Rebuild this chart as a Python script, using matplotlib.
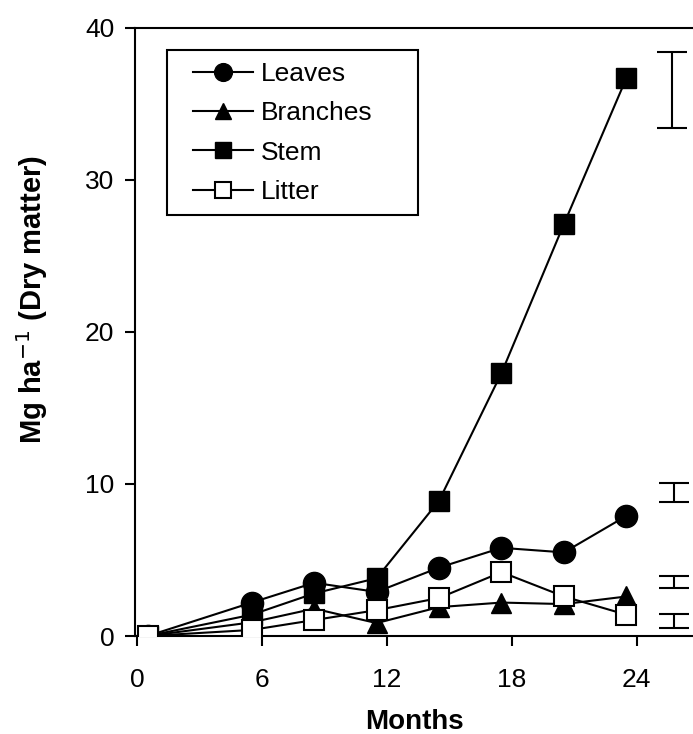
import matplotlib
matplotlib.use('Agg')
import matplotlib.pyplot as plt
from matplotlib.patches import Rectangle

# sampling times (months)
months = [0.5, 5.5, 8.5, 11.5, 14.5, 17.5, 20.5, 23.5]

leaves = [0.0, 2.2, 3.5, 2.9, 4.5, 5.8, 5.5, 7.9]
branches = [0.0, 0.9, 1.8, 0.85, 1.9, 2.2, 2.1, 2.6]
stem = [0.0, 1.4, 2.8, 3.8, 8.9, 17.3, 27.1, 36.7]
litter = [0.0, 0.4, 1.05, 1.7, 2.5, 4.2, 2.6, 1.4]

# standard error bars drawn at the right hand side
err_x = [25.7, 25.8, 25.8, 25.8]
err_center = [35.9, 9.45, 3.58, 1.0]
err_half = [2.5, 0.63, 0.4, 0.47]

plt.rcParams['font.family'] = ['Liberation Sans', 'DejaVu Sans']

fig = plt.figure(figsize=(6.93, 7.34), dpi=100)
ax = fig.add_axes([0.195, 0.1335, 0.805, 0.8285])

lw = 1.5
ax.plot(months, stem, '-s', color='black', lw=lw, ms=14, mfc='black', label='Stem', zorder=3)
ax.plot(months, branches, '-^', color='black', lw=lw, ms=15, mfc='black', label='Branches', zorder=4)
ax.plot(months, leaves, '-o', color='black', lw=lw, ms=16, mfc='black', label='Leaves', zorder=5)
ax.plot(months, litter, '-s', color='black', lw=lw, ms=14, mfc='white', mew=1.5, label='Litter', zorder=6)

ax.errorbar(err_x, err_center, yerr=err_half, fmt='none', ecolor='black',
            elinewidth=1.5, capsize=11, capthick=1.5)

ax.set_xlim(-0.1, 26.7)
ax.set_ylim(0, 40)
ax.set_xticks([0, 6, 12, 18, 24])
ax.set_yticks([0, 10, 20, 30, 40])
ax.tick_params(direction='out', length=7, width=1.5, labelsize=19)
ax.tick_params(axis='x', pad=16)
ax.tick_params(axis='y', pad=8)
for s in ['left', 'bottom', 'top']:
    ax.spines[s].set_linewidth(1.5)
ax.spines['right'].set_visible(False)

ax.set_xlabel('Months', fontsize=20, fontweight='bold', labelpad=12)
ax.set_ylabel('Mg ha$^{-1}$ (Dry matter)', fontsize=21, fontweight='bold')
ax.yaxis.set_label_coords(-0.153, 0.553)

h, l = ax.get_legend_handles_labels()
order = [2, 1, 0, 3]
leg = ax.legend([h[i] for i in order], [l[i] for i in order], loc='upper left',
                bbox_to_anchor=(0.104, 0.944), borderaxespad=0, fontsize=19,
                frameon=False, markerscale=0.8, handlelength=2.27,
                handletextpad=0.3, labelspacing=0.58, borderpad=0)
# legend box is wider than its content in the original figure
ax.add_patch(Rectangle((0.057, 0.692), 0.45, 0.272, transform=ax.transAxes,
                       fill=False, lw=1.5, ec='black', zorder=7))

fig.savefig('out.png', dpi=100)
